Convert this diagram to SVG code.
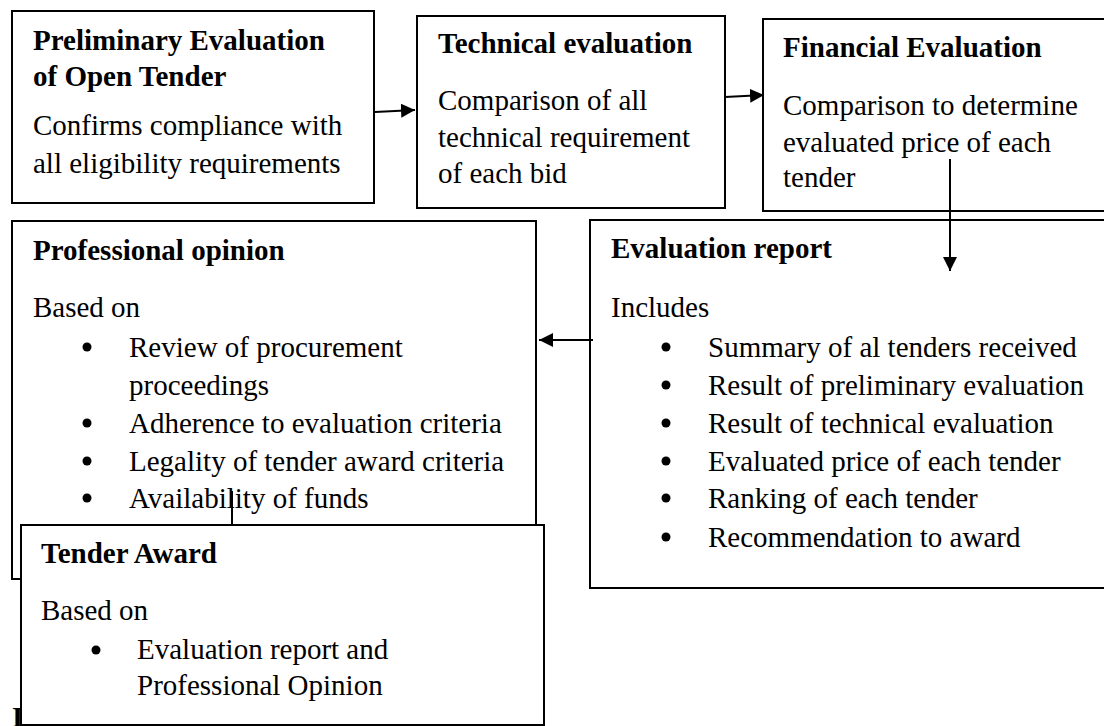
<svg xmlns="http://www.w3.org/2000/svg" width="1104" height="726" viewBox="0 0 1104 726">
  <style>
    .box { fill: #ffffff; stroke: #000000; stroke-width: 2; }
    .t { font-family: "Liberation Serif", "Times New Roman", serif; font-size: 29px; fill: #000000; }
    .b { font-weight: bold; }
    .dot { fill: #000000; }
    .conn { fill: none; stroke: #000000; stroke-width: 2; }
  </style>
  <defs>
    <marker id="arrow" markerUnits="userSpaceOnUse" markerWidth="15" markerHeight="15" refX="14" refY="7" orient="auto">
      <path d="M0,0 L14,7 L0,14 Z" fill="#000000"/>
    </marker>
  </defs>

  <rect width="1104" height="726" fill="#ffffff"/>

  <!-- stray bold glyph partly hidden behind the award box -->
  <text class="t b" x="12" y="727">I</text>

  <g id="preliminary">
    <rect class="box" x="12" y="11" width="362" height="192"/>
    <text class="t b" x="33" y="50">Preliminary Evaluation</text>
    <text class="t b" x="33" y="86">of Open Tender</text>
    <text class="t" x="33" y="135">Confirms compliance with</text>
    <text class="t" x="33" y="173">all eligibility requirements</text>
  </g>

  <g id="technical">
    <rect class="box" x="417" y="16" width="308" height="192"/>
    <text class="t b" x="438" y="53">Technical evaluation</text>
    <text class="t" x="438" y="110">Comparison of all</text>
    <text class="t" x="438" y="147">technical requirement</text>
    <text class="t" x="438" y="183">of each bid</text>
  </g>

  <g id="financial">
    <rect class="box" x="763" y="19" width="345" height="192"/>
    <text class="t b" x="783" y="57">Financial Evaluation</text>
    <text class="t" x="783" y="115">Comparison to determine</text>
    <text class="t" x="783" y="152">evaluated price of each</text>
    <text class="t" x="783" y="187">tender</text>
  </g>

  <g id="professional">
    <rect class="box" x="12" y="221" width="524" height="358"/>
    <text class="t b" x="33" y="260">Professional opinion</text>
    <text class="t" x="33" y="317">Based on</text>
    <circle class="dot" cx="87" cy="347" r="4.5"/>
    <text class="t" x="129" y="357">Review of procurement</text>
    <text class="t" x="129" y="395">proceedings</text>
    <circle class="dot" cx="87" cy="423" r="4.5"/>
    <text class="t" x="129" y="433">Adherence to evaluation criteria</text>
    <circle class="dot" cx="87" cy="461" r="4.5"/>
    <text class="t" x="129" y="471">Legality of tender award criteria</text>
    <circle class="dot" cx="87" cy="498" r="4.5"/>
    <text class="t" x="129" y="508">Availability of funds</text>
  </g>

  <g id="report">
    <rect class="box" x="590" y="220" width="518" height="368"/>
    <text class="t b" x="611" y="258">Evaluation report</text>
    <text class="t" x="611" y="317">Includes</text>
    <circle class="dot" cx="666" cy="347" r="4.5"/>
    <text class="t" x="708" y="357">Summary of al tenders received</text>
    <circle class="dot" cx="666" cy="385" r="4.5"/>
    <text class="t" x="708" y="395">Result of preliminary evaluation</text>
    <circle class="dot" cx="666" cy="423" r="4.5"/>
    <text class="t" x="708" y="433">Result of technical evaluation</text>
    <circle class="dot" cx="666" cy="461" r="4.5"/>
    <text class="t" x="708" y="471">Evaluated price of each tender</text>
    <circle class="dot" cx="666" cy="498" r="4.5"/>
    <text class="t" x="708" y="508">Ranking of each tender</text>
    <circle class="dot" cx="666" cy="537" r="4.5"/>
    <text class="t" x="708" y="547">Recommendation to award</text>
  </g>

  <g id="connectors">
    <line class="conn" x1="375" y1="112" x2="415" y2="110" marker-end="url(#arrow)"/>
    <line class="conn" x1="725" y1="97" x2="764" y2="95" marker-end="url(#arrow)"/>
    <line class="conn" x1="950" y1="159" x2="950" y2="271" marker-end="url(#arrow)"/>
    <line class="conn" x1="593" y1="340" x2="539" y2="340" marker-end="url(#arrow)"/>
    <line class="conn" x1="232" y1="491" x2="232" y2="525"/>
  </g>

  <g id="award">
    <rect class="box" x="21" y="525" width="523" height="200"/>
    <text class="t b" x="41" y="563">Tender Award</text>
    <text class="t" x="41" y="620">Based on</text>
    <circle class="dot" cx="96" cy="650" r="4.5"/>
    <text class="t" x="137" y="659">Evaluation report and</text>
    <text class="t" x="137" y="695">Professional Opinion</text>
  </g>
</svg>
